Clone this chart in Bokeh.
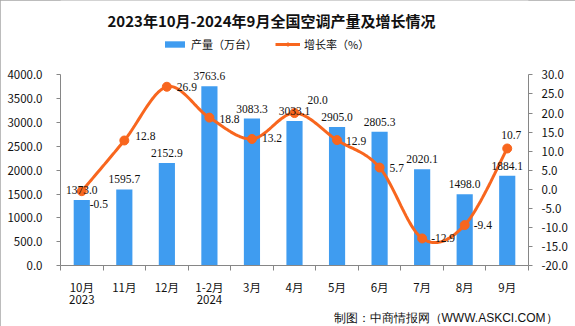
from bokeh.plotting import figure
from bokeh.models import (Range1d, LinearAxis, FixedTicker, ColumnDataSource, LabelSet,
                          Legend, LegendItem, Title, Label, NumeralTickFormatter)
from bokeh.embed import file_html
from bokeh.resources import INLINE

# ---------------- data ----------------
categories = ["10月\n2023", "11月", "12月", "1-2月\n2024", "3月", "4月", "5月",
              "6月", "7月", "8月", "9月"]
output_wan = [1373.0, 1595.7, 2152.9, 3763.6, 3083.3, 3033.1, 2905.0, 2805.3,
              2020.1, 1498.0, 1884.1]
growth_pct = [-0.5, 12.8, 26.9, 18.8, 13.2, 20.0, 12.9, 5.7, -12.9, -9.4, 10.7]
left_ticks = [0, 500, 1000, 1500, 2000, 2500, 3000, 3500, 4000]
right_ticks = [-20, -15, -10, -5, 0, 5, 10, 15, 20, 25, 30]

# label placement (style only)
rate_dx = [8, 11, 10, 10, 10, 13, 9, 10, 9, 9, -6]
rate_dy = [-13, 4, 0, -1, 1, 13, -1, 0, 0, 0, 13]

BLUE = "#3F9CF0"
ORANGE = "#F8661E"
FONT = "Noto Sans CJK SC"
FOOT_FONT = "Liberation Sans"
AXIS_GRAY = "#868686"
TXT = "#111111"

# layout in pixels
W, H = 575, 326
AX_LEFT, AX_RIGHT = 60, 528
AX_TOP, AX_BOTTOM = 75, 267   # pixel rows of top and bottom tick

n = len(categories)
xc = [i + 0.5 for i in range(n)]

# extend value ranges upward so the title/legend area is part of the frame
scale_frac = AX_BOTTOM / (AX_BOTTOM - AX_TOP)
l0, l1 = left_ticks[0], left_ticks[-1]
r0, r1 = right_ticks[0], right_ticks[-1]
left_end = l0 + (l1 - l0) * scale_frac
right_end = r0 + (r1 - r0) * scale_frac


def catmull_rom(xs, ys, steps=24):
    px, py = [], []
    m = len(xs)
    for i in range(m - 1):
        i0, i1, i2, i3 = max(i - 1, 0), i, i + 1, min(i + 2, m - 1)
        for s in range(steps):
            t = s / steps
            t2, t3 = t * t, t * t * t

            def f(a0, a1, a2, a3):
                return 0.5 * (2 * a1 + (-a0 + a2) * t + (2 * a0 - 5 * a1 + 4 * a2 - a3) * t2
                              + (-a0 + 3 * a1 - 3 * a2 + a3) * t3)
            px.append(f(xs[i0], xs[i1], xs[i2], xs[i3]))
            py.append(f(ys[i0], ys[i1], ys[i2], ys[i3]))
    px.append(xs[-1])
    py.append(ys[-1])
    return px, py


sx, sy = catmull_rom(xc, growth_pct)

p = figure(width=W, height=H, output_backend="svg", toolbar_location=None,
           x_range=Range1d(0, n), y_range=Range1d(l0, left_end),
           min_border_left=AX_LEFT, min_border_right=W - AX_RIGHT, min_border_top=0,
           min_border_bottom=H - AX_BOTTOM, title_location=None)
p.extra_y_ranges = {"rate": Range1d(r0, right_end)}
p.background_fill_color = "white"
p.border_fill_color = "white"
p.outline_line_color = None
p.xgrid.visible = False
p.ygrid.visible = False
p.styles = {"outline": "1px solid #a6a6a6", "outline-offset": "-1px"}

bar_src = ColumnDataSource(dict(x=xc, top=output_wan,
                                label=[f"{v:.1f}" for v in output_wan]))
bars = p.vbar(x="x", top="top", width=0.38, source=bar_src, fill_color=BLUE,
              line_color=None)

rate_src = ColumnDataSource(dict(x=xc, y=growth_pct,
                                 label=[f"{v:.1f}" for v in growth_pct],
                                 dx=rate_dx, dy=rate_dy))
line = p.line(sx, sy, line_color=ORANGE, line_width=3, y_range_name="rate")
dots = p.scatter("x", "y", source=rate_src, size=9, fill_color=ORANGE, line_color=ORANGE,
                 y_range_name="rate")

# axes
yax = p.yaxis[0]
yax.ticker = FixedTicker(ticks=left_ticks)
yax.formatter = NumeralTickFormatter(format="0.0")
yax.bounds = (l0, l1)
yax.major_label_standoff = 14
rax = LinearAxis(y_range_name="rate", ticker=FixedTicker(ticks=right_ticks),
                 formatter=NumeralTickFormatter(format="0.0"), bounds=(r0, r1))
rax.major_label_standoff = 9
p.add_layout(rax, "right")
for ax in (yax, rax):
    ax.axis_line_color = AXIS_GRAY
    ax.major_tick_line_color = AXIS_GRAY
    ax.major_tick_out = 4
    ax.major_tick_in = 0
    ax.minor_tick_line_color = None
    ax.major_label_text_font = FONT
    ax.major_label_text_font_size = "11.5px"
    ax.major_label_text_color = TXT

xax = p.xaxis[0]
xax.ticker = FixedTicker(ticks=xc, minor_ticks=list(range(n + 1)))
xax.major_label_overrides = {x: c for x, c in zip(xc, categories)}
xax.axis_line_color = AXIS_GRAY
xax.major_tick_line_color = None
xax.major_tick_out = 0
xax.major_tick_in = 0
xax.minor_tick_line_color = AXIS_GRAY
xax.minor_tick_out = 5
xax.minor_tick_in = 0
xax.major_label_text_font = FONT
xax.major_label_text_font_size = "11.5px"
xax.major_label_text_line_height = 0.8
xax.major_label_text_color = TXT
xax.major_label_standoff = 8

# data labels
p.add_layout(LabelSet(x="x", y="top", text="label", source=bar_src, y_offset=6,
                      text_align="center", text_baseline="bottom",
                      text_font=FONT, text_font_size="11.5px", text_color=TXT))
p.add_layout(LabelSet(x="x", y="y", text="label", source=rate_src, y_range_name="rate",
                      x_offset="dx", y_offset="dy", text_align="left", text_baseline="middle",
                      text_font=FONT, text_font_size="11.5px", text_color=TXT))

# legend (inside the extended frame, above the plotting area)
legend = Legend(items=[LegendItem(label="产量（万台）", renderers=[bars]),
                       LegendItem(label="增长率（%）", renderers=[line, dots])],
                orientation="horizontal", location=(162 - AX_LEFT, AX_BOTTOM - 47 - 7),
                glyph_width=25, glyph_height=8, label_text_font=FONT,
                label_text_font_size="11px", label_text_color=TXT,
                spacing=18, padding=0, margin=0, border_line_color=None,
                background_fill_alpha=0, label_standoff=4)
p.add_layout(legend, "center")

# title
p.add_layout(Label(x=107 - AX_LEFT, y=AX_BOTTOM - 22, x_units="screen", y_units="screen",
                   text="2023年10月-2024年9月全国空调产量及增长情况", text_font=FONT,
                   text_font_size="15px", text_font_style="bold", text_color=TXT,
                   text_align="left", text_baseline="middle"))
# footer
p.add_layout(Title(text="制图：中商情报网（WWW.ASKCI.COM）", text_font=FOOT_FONT,
                   text_font_size="12px", text_font_style="normal", align="right",
                   offset=-29, text_color=TXT, standoff=0, vertical_align="top"), "below")

open("out.html", "w").write(file_html(p, INLINE))
